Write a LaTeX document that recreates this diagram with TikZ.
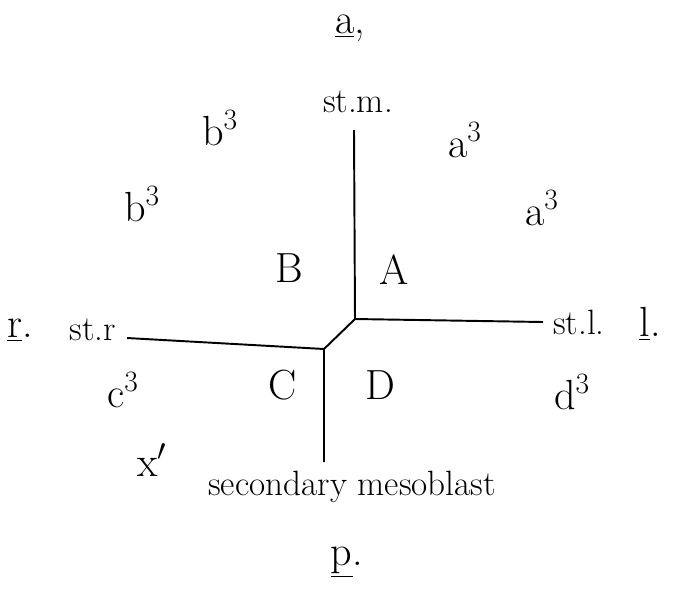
\documentclass[tikz,border=0pt]{standalone}
\usepackage{tikz}
\usetikzlibrary{positioning}

\begin{document}
\begin{tikzpicture}[
  x=0.02cm, y=-0.02cm,
  lbl/.style={inner sep=1pt, font=\fontsize{20}{24}\selectfont},
  big/.style={inner sep=1pt, font=\fontsize{24}{28}\selectfont},
  wall/.style={line width=1.1pt},
]
  \useasboundingbox (0,0) rectangle (675,602);

  % furrow points
  \coordinate (top)  at (354,130);
  \coordinate (up)   at (355,319);
  \coordinate (low)  at (324,349);
  \coordinate (rend) at (543,322);
  \coordinate (lend) at (127,338);
  \coordinate (bot)  at (324,462);

  % poles
  \node[big] (apole) at (350,28)  {\underline{a},};
  \node[big] (rpole) at (20,330)  {\underline{r}.};
  \node[big] (lpole) at (650,324) {\underline{l}.};
  \node[big] (ppole) at (347,562) {\underline{p}.};

  % furrow ends
  \node[lbl] (stm) at (358,102) {st.m.};
  \node[lbl] (str) at (93,330)  {st.r};
  \node[lbl] (stl) at (579,322) {st.l.};
  \node[lbl] (meso) at (352,487)  {secondary mesoblast};

  % quadrants
  \node[big] (qA) at (394,270) {A};
  \node[big] (qB) at (289,268) {B};
  \node[big] (qC) at (283,385) {C};
  \node[big] (qD) at (380,385) {D};

  % micromeres
  \node[big] (bi)  at (220,128) {b\textsuperscript{3}};
  \node[big] (bii) at (142,204) {b\textsuperscript{3}};
  \node[big] (ai)  at (465,140) {a\textsuperscript{3}};
  \node[big] (aii) at (542,208) {a\textsuperscript{3}};
  \node[big] (ci)  at (123,390) {c\textsuperscript{3}};
  \node[big] (xi)  at (152,460) {x$'$};
  \node[big] (di)  at (572,392) {d\textsuperscript{3}};

  \draw[wall] (top) -- (up) -- (rend);
  \draw[wall] (up) -- (low);
  \draw[wall] (lend) -- (low) -- (bot);
\end{tikzpicture}
\end{document}
